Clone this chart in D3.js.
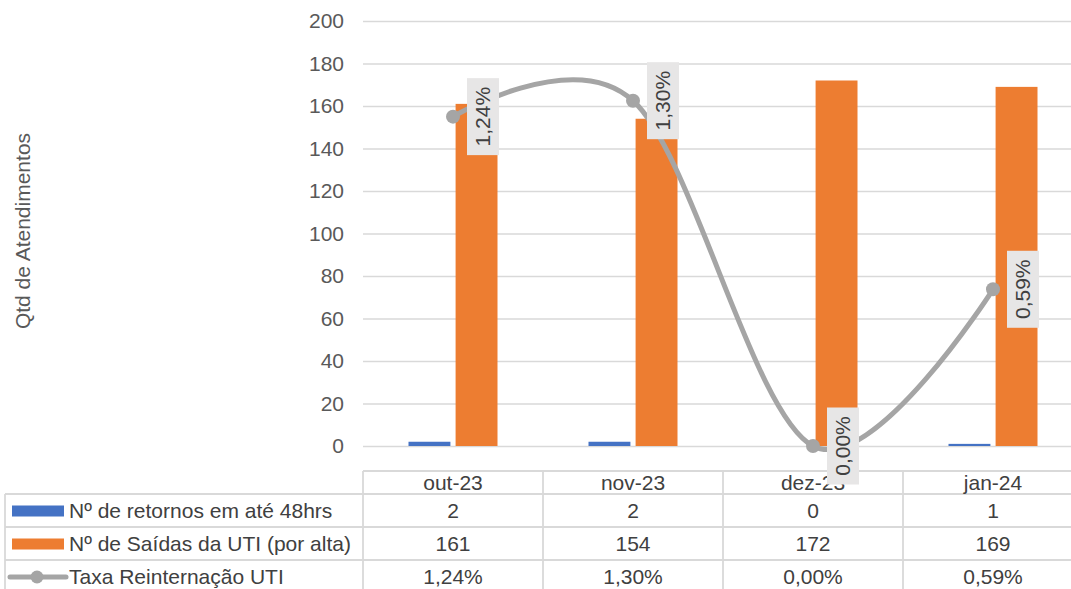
<!DOCTYPE html>
<html>
<head>
<meta charset="utf-8">
<script src="https://cdn.jsdelivr.net/npm/d3@7/dist/d3.min.js"></script>
<style>
  html, body { margin: 0; padding: 0; background: #fff; }
  svg { display: block; font-family: "Liberation Sans", Arial, sans-serif; }
</style>
</head>
<body>
<svg id="chart" width="1071" height="589"></svg>
<script>
// ---- data ----
const categories = ["out-23", "nov-23", "dez-23", "jan-24"];
const retornos = [2, 2, 0, 1];
const saidas = [161, 154, 172, 169];
const taxa = [0.0124, 0.0130, 0.0000, 0.0059];
const taxaLabels = ["1,24%", "1,30%", "0,00%", "0,59%"];
const yTicks = [0, 20, 40, 60, 80, 100, 120, 140, 160, 180, 200];
const seriesNames = ["Nº de retornos em até 48hrs", "Nº de Saídas da UTI (por alta)", "Taxa Reinternação UTI"];
const yTitle = "Qtd de Atendimentos";

// ---- layout ----
const W = 1071, H = 589;
const plotL = 363, plotR = 1083, plotT = 21, plotB = 446;
const fs = 21;
const colBlue = "#4472c4", colOrange = "#ed7d31", colGrey = "#a5a5a5";
const gridCol = "#d9d9d9", textCol = "#595959", tblText = "#404040";

const svg = d3.select("#chart");

const x = d3.scaleBand().domain(categories).range([plotL, plotR]).padding(0);
const xs = d3.scaleBand().domain(["ret", "sai"]).range([45.5, 134.5]).paddingInner(0.11);
const y = d3.scaleLinear().domain([0, 200]).range([plotB, plotT]);
const y2 = d3.scaleLinear().domain([0, 0.016]).range([plotB, plotT]);

// gridlines + tick labels
const yAxis = d3.axisLeft(y).tickValues(yTicks).tickSize(-(plotR - plotL)).tickPadding(19).tickFormat(d3.format("d"));
const ga = svg.append("g").attr("transform", `translate(${plotL},0)`).call(yAxis);
ga.select(".domain").remove();
ga.selectAll(".tick line").attr("stroke", gridCol).attr("stroke-width", 1.5);
ga.selectAll(".tick text").attr("fill", textCol).style("font-size", fs + "px").style("font-family", "Liberation Sans, Arial, sans-serif");

// y title
svg.append("text")
  .attr("transform", `translate(30,231) rotate(-90)`)
  .attr("text-anchor", "middle")
  .attr("fill", textCol)
  .style("font-size", fs + "px")
  .text(yTitle);

// bars
const barData = categories.map((c, i) => ({ c, ret: retornos[i], sai: saidas[i] }));
const gb = svg.append("g");
gb.selectAll("rect.ret").data(barData).join("rect")
  .attr("x", d => x(d.c) + xs("ret"))
  .attr("width", xs.bandwidth())
  .attr("y", d => y(d.ret))
  .attr("height", d => y(0) - y(d.ret))
  .attr("fill", colBlue);
gb.selectAll("rect.sai").data(barData).join("rect")
  .attr("x", d => x(d.c) + xs("sai"))
  .attr("width", xs.bandwidth())
  .attr("y", d => y(d.sai))
  .attr("height", d => y(0) - y(d.sai))
  .attr("fill", colOrange);

// ---- table ----
const rowTop = [494, 527, 560];
const rowH = 33;
const headTop = 471;
const tbl = svg.append("g");
const lineAttr = sel => sel.attr("stroke", gridCol).attr("stroke-width", 1.8);
// horizontal lines
tbl.append("line").attr("x1", plotL).attr("x2", plotR).attr("y1", headTop).attr("y2", headTop).call(lineAttr);
rowTop.forEach(t => tbl.append("line").attr("x1", 5).attr("x2", plotR).attr("y1", t).attr("y2", t).call(lineAttr));
tbl.append("line").attr("x1", 5).attr("x2", plotR).attr("y1", 593).attr("y2", 593).call(lineAttr);
// vertical lines
tbl.append("line").attr("x1", 5).attr("x2", 5).attr("y1", rowTop[0]).attr("y2", 593).call(lineAttr);
categories.forEach(c => tbl.append("line").attr("x1", x(c)).attr("x2", x(c)).attr("y1", headTop).attr("y2", 593).call(lineAttr));
tbl.append("line").attr("x1", plotR).attr("x2", plotR).attr("y1", headTop).attr("y2", 593).call(lineAttr);

// header text
tbl.selectAll("text.hd").data(categories).join("text")
  .attr("x", d => x(d) + x.bandwidth() / 2)
  .attr("y", headTop + 12)
  .attr("dy", "0.35em")
  .attr("text-anchor", "middle")
  .attr("fill", tblText)
  .style("font-size", fs + "px")
  .text(d => d);

const rows = [
  retornos.map(String),
  saidas.map(String),
  taxaLabels
];
rows.forEach((vals, r) => {
  const cy = rowTop[r] + rowH / 2 + 0.5;
  tbl.selectAll(null).data(vals).join("text")
    .attr("x", (d, i) => x(categories[i]) + x.bandwidth() / 2)
    .attr("y", cy)
    .attr("dy", "0.35em")
    .attr("text-anchor", "middle")
    .attr("fill", tblText)
    .style("font-size", fs + "px")
    .text(d => d);
  tbl.append("text")
    .attr("x", 69)
    .attr("y", cy)
    .attr("dy", "0.35em")
    .attr("fill", tblText)
    .style("font-size", fs + "px")
    .text(seriesNames[r]);
});
// legend keys
tbl.append("rect").attr("x", 12).attr("width", 52).attr("y", rowTop[0] + rowH / 2 - 5).attr("height", 11).attr("fill", colBlue);
tbl.append("rect").attr("x", 12).attr("width", 52).attr("y", rowTop[1] + rowH / 2 - 5).attr("height", 11).attr("fill", colOrange);
const ly = rowTop[2] + rowH / 2 + 0.5;
tbl.append("line").attr("x1", 10).attr("x2", 66).attr("y1", ly).attr("y2", ly).attr("stroke", colGrey).attr("stroke-width", 5).attr("stroke-linecap", "round");
tbl.append("circle").attr("cx", 37).attr("cy", ly).attr("r", 6.5).attr("fill", colGrey);

// ---- line ----
const pts = categories.map((c, i) => [x(c) + x.bandwidth() / 2, y2(taxa[i])]);
const lineGen = d3.line().curve(d3.curveCatmullRom.alpha(0));
svg.append("path")
  .attr("d", lineGen(pts))
  .attr("fill", "none")
  .attr("stroke", colGrey)
  .attr("stroke-width", 5)
  .attr("stroke-linecap", "round");
svg.selectAll("circle.pt").data(pts).join("circle")
  .attr("cx", d => d[0]).attr("cy", d => d[1]).attr("r", 7)
  .attr("fill", colGrey);

// data labels
const lg = svg.append("g");
pts.forEach((p, i) => {
  const bx = p[0] + 14, bw = 32, bh = 77;
  lg.append("rect").attr("x", bx).attr("y", p[1] - bh / 2).attr("width", bw).attr("height", bh).attr("fill", "#e7e6e6");
  lg.append("text")
    .attr("transform", `translate(${bx + bw / 2},${p[1]}) rotate(-90)`)
    .attr("text-anchor", "middle")
    .attr("dy", "0.35em")
    .attr("fill", tblText)
    .style("font-size", fs + "px")
    .text(taxaLabels[i]);
});
</script>
</body>
</html>
